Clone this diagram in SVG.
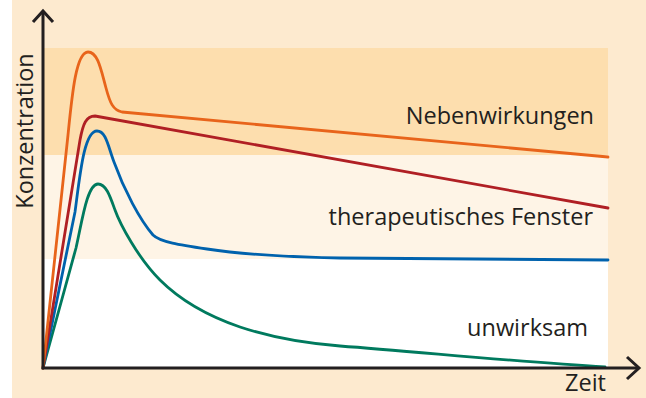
<svg xmlns="http://www.w3.org/2000/svg" width="646" height="398" viewBox="0 0 646 398">
<style>
.lbl{font-family:"Open Sans","DejaVu Sans",sans-serif;font-size:23.5px;fill:#231f20}
.curve{fill:none;stroke-width:2.8;stroke-linejoin:round;stroke-linecap:round}
.axis{fill:none;stroke:#231f20;stroke-width:3}
</style>
<rect x="12" y="0" width="634" height="398" fill="#fdeacf"/>
<g id="bands">
<rect x="44" y="48" width="564" height="107" fill="#fddeae"/>
<rect x="44" y="155" width="564" height="104" fill="#fef4e6"/>
<rect x="44" y="259" width="564" height="109" fill="#ffffff"/>
</g>
<g id="band-labels">
<text class="lbl" x="594" y="124" text-anchor="end">Nebenwirkungen</text>
<text class="lbl" x="593" y="225" text-anchor="end">therapeutisches Fenster</text>
<text class="lbl" x="588" y="336" text-anchor="end">unwirksam</text>
</g>
<g id="curves">
<path class="curve" stroke="#007a5e" d="M43,368 L76,248 C82,222 87,184 98,184 C106,184 110,196 115,210 C120,224 138,258 160,280 C180,300 205,315 240,327 C270,337 300,343 340,346 C420,352 520,362 605,367"/>
<path class="curve" stroke="#0062ad" d="M43,368 L75,212 C80,175 84,131 97,131 C106,131 108,146 114,162 C124,190 140,220 153,235 C160,242 180,245 207,249 C240,254 290,257 340,258 L608,260"/>
<path class="curve" stroke="#b01f24" d="M43,368 L80,140 C83,124 86,116 95,116 L608,208"/>
<path class="curve" stroke="#e8641b" d="M43,368 L68,135 C72,95 76,52 88,52 C98,52 101,70 106,88 C110,103 113,110 122,112 L608,157"/>
</g>
<g id="axes">
<path class="axis" d="M43,12 L43,368 L638,368"/>
<path class="axis" d="M33,22 L43,11 L53,22"/>
<path class="axis" d="M627,357 L639,368 L627,379"/>
<text class="lbl" x="565" y="391">Zeit</text>
<text class="lbl" transform="translate(33,131) rotate(-90)" text-anchor="middle">Konzentration</text>
</g>
</svg>
